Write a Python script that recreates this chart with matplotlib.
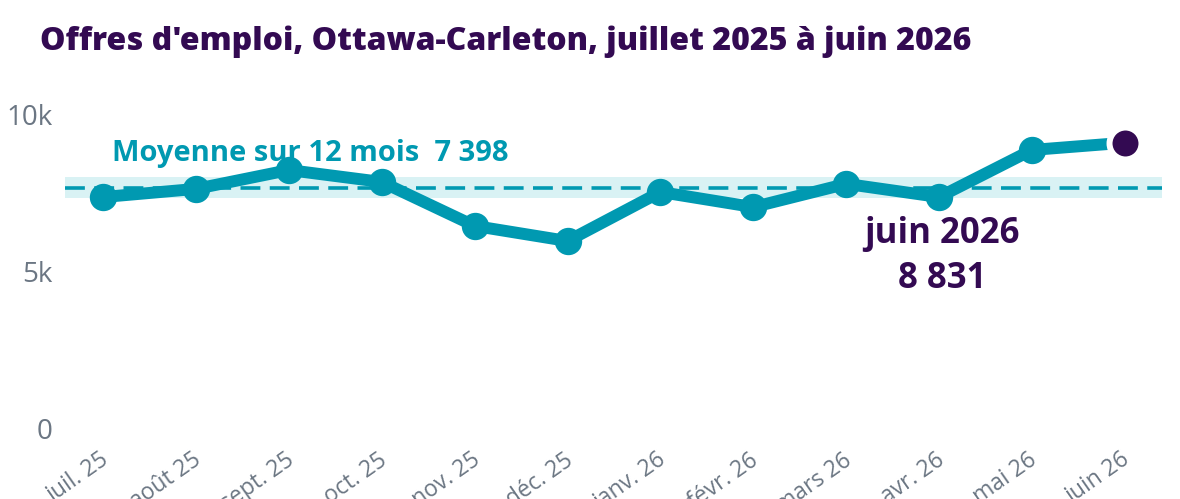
import matplotlib
matplotlib.use("Agg")
import matplotlib.pyplot as plt
import matplotlib.transforms as mtransforms

# Offres d'emploi par mois
months = ["juil. 25", "août 25", "sept. 25", "oct. 25", "nov. 25", "déc. 25",
          "janv. 26", "févr. 26", "mars 26", "avr. 26", "mai 26", "juin 26"]
postings = [7100, 7360, 7960, 7580, 6180, 5700,
            7260, 6780, 7520, 7100, 8600, 8831]
mean_12m = 7398
yticks = [0, 5000, 10000]
ytick_labels = ["0", "5k", "10k"]

TEAL = "#0099b1"
PURPLE = "#330a52"
BAND = "#d9f2f4"
GRAY = "#6b7683"


def fmt(n):
    return f"{n:,}".replace(",", " ")


fig = plt.figure(figsize=(11.8, 4.99), dpi=100)
W, H = 1180, 499
ax = fig.add_axes([65 / W, 1 - 440 / H, 1097 / W, 345 / H])

x = list(range(len(months)))

# bande + ligne de moyenne
ax.axhspan(mean_12m - 330, mean_12m + 330, color=BAND, zorder=1, lw=0)
ax.axhline(mean_12m, color=TEAL, lw=2.6, dashes=(5.5, 2.6), zorder=2)

# série
ax.plot(x[:-1], postings[:-1], color=TEAL, lw=8.6, marker="o", ms=18.7,
        solid_joinstyle="round", zorder=3)
ax.plot(x[-2:], postings[-2:], color=TEAL, lw=8.6, zorder=3)
ax.plot(x[-1], postings[-1], marker="o", ms=23, color=PURPLE,
        mec="white", mew=4.3, zorder=4, clip_on=False)

ax.text(0.1, 8500, f"Moyenne sur 12 mois  {fmt(mean_12m)}", color=TEAL,
        fontsize=21, fontweight="bold", family="Open Sans",
        ha="left", va="center", zorder=5)
ax.text(9.03, 5200, f"juin 2026\n{fmt(postings[-1])}", color=PURPLE,
        fontsize=25, fontweight="bold", family="Open Sans",
        ha="center", va="center", linespacing=1.35, zorder=5)

ax.set_xlim(-0.41, 11.4)
ax.set_ylim(-637, 10350)

ax.set_yticks(yticks)
ax.set_yticklabels(ytick_labels, fontsize=20, color=GRAY, family="Open Sans")
ax.set_xticks(x)
ax.set_xticklabels(months, fontsize=16.5, color=GRAY, family="Open Sans",
                   rotation=35, ha="right", rotation_mode="anchor")
ax.tick_params(axis="y", length=0, pad=9)
ax.tick_params(axis="x", length=0, pad=6)

offset = mtransforms.ScaledTranslation(0, -9 / 100, fig.dpi_scale_trans)
for lab in ax.get_yticklabels():
    lab.set_transform(lab.get_transform() + offset)
xoff = mtransforms.ScaledTranslation(-4 / 100, 0, fig.dpi_scale_trans)
for lab in ax.get_xticklabels():
    lab.set_transform(lab.get_transform() + xoff)

for s in ax.spines.values():
    s.set_visible(False)

fig.text(40 / W, 1 - 42 / H,
         "Offres d'emploi, Ottawa-Carleton, juillet 2025 à juin 2026",
         color=PURPLE, fontsize=23, fontweight="heavy", family="Open Sans",
         ha="left", va="center")

fig.savefig("out.png", dpi=100)
